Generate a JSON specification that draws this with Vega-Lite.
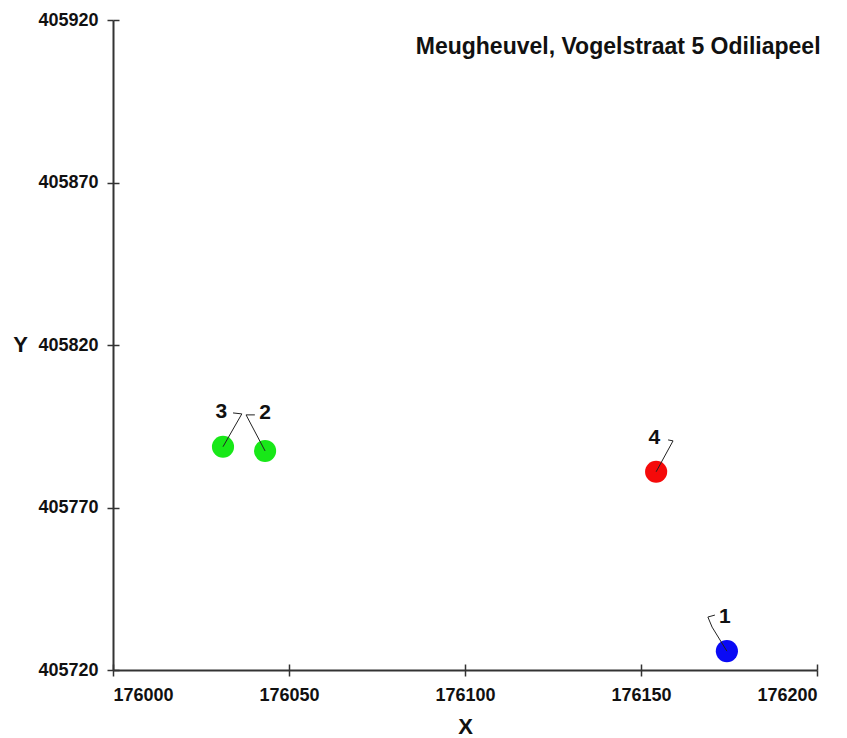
{
  "$schema": "https://vega.github.io/schema/vega-lite/v6.json",
  "width": 704,
  "height": 650,
  "autosize": "none",
  "padding": {"left": 113, "top": 20, "right": 30, "bottom": 68},
  "background": "white",
  "config": {
    "view": {"stroke": null},
    "font": "Liberation Sans",
    "axis": {
      "grid": false,
      "domainColor": "#333333",
      "domainWidth": 2,
      "tickColor": "#333333",
      "tickWidth": 1.5,
      "tickSize": 6,
      "labelFont": "Liberation Sans",
      "labelFontWeight": "bold",
      "labelFontSize": 18,
      "labelColor": "#111111",
      "titleFont": "Liberation Sans",
      "titleFontWeight": "bold",
      "titleFontSize": 22,
      "titleColor": "#111111"
    }
  },
  "datasets": {
    "points": [
      {"punt": "1", "x": 176174.4, "y": 405725.8},
      {"punt": "2", "x": 176043.2, "y": 405787.4},
      {"punt": "3", "x": 176031.25, "y": 405788.7},
      {"punt": "4", "x": 176154.3, "y": 405781.0}
    ],
    "labels": [
      {"punt": "1", "x": 176173.8, "y": 405736.2},
      {"punt": "2", "x": 176043.2, "y": 405799.0},
      {"punt": "3", "x": 176030.8, "y": 405799.5},
      {"punt": "4", "x": 176153.8, "y": 405791.5}
    ],
    "leaders": [
      {"punt": "1", "ord": 1, "x": 176174.4, "y": 405725.8},
      {"punt": "1", "ord": 2, "x": 176170.2, "y": 405733.2},
      {"punt": "1", "ord": 3, "x": 176169.0, "y": 405736.3},
      {"punt": "1", "ord": 4, "x": 176171.0, "y": 405736.9},
      {"punt": "2", "ord": 1, "x": 176043.2, "y": 405787.4},
      {"punt": "2", "ord": 2, "x": 176037.8, "y": 405798.5},
      {"punt": "2", "ord": 3, "x": 176040.3, "y": 405798.5},
      {"punt": "3", "ord": 1, "x": 176031.25, "y": 405788.7},
      {"punt": "3", "ord": 2, "x": 176036.6, "y": 405798.8},
      {"punt": "3", "ord": 3, "x": 176034.1, "y": 405799.1},
      {"punt": "4", "ord": 1, "x": 176154.3, "y": 405781.0},
      {"punt": "4", "ord": 2, "x": 176159.1, "y": 405790.5},
      {"punt": "4", "ord": 3, "x": 176157.7, "y": 405790.8}
    ]
  },
  "resolve": {"axis": {"x": "independent", "y": "independent"}},
  "layer": [
    {
      "data": {"name": "points"},
      "mark": {"type": "circle", "size": 490, "opacity": 1},
      "encoding": {
        "x": {"field": "x", "type": "quantitative",
              "scale": {"domain": [176000, 176200], "nice": false, "zero": false},
              "axis": {"values": [176000, 176050, 176100, 176150, 176200], "format": "d", "title": "X", "labelPadding": 10, "titleY": 56, "titleBaseline": "middle"}},
        "y": {"field": "y", "type": "quantitative",
              "scale": {"domain": [405720, 405920], "nice": false, "zero": false},
              "axis": {"values": [405720, 405770, 405820, 405870, 405920], "format": "d", "title": "Y", "labelPadding": 9, "titleAngle": 0, "titleX": -93, "titleY": 324, "titleAlign": "center", "titleBaseline": "middle"}},
        "color": {"field": "punt", "type": "nominal",
                  "scale": {"domain": ["1", "2", "3", "4"], "range": ["#0a0af5", "#18e818", "#18e818", "#f50a0a"]},
                  "legend": null}
      }
    },
    {
      "data": {"name": "leaders"},
      "mark": {"type": "line", "color": "#222222", "strokeWidth": 1},
      "encoding": {
        "x": {"field": "x", "type": "quantitative",
              "axis": {"orient": "bottom", "offset": -6, "domain": false, "labels": false, "title": null, "tickSize": 6, "values": [176000, 176050, 176100, 176150, 176200]}},
        "y": {"field": "y", "type": "quantitative",
              "axis": {"orient": "left", "offset": -6, "domain": false, "labels": false, "title": null, "tickSize": 6, "values": [405720, 405770, 405820, 405870, 405920]}},
        "detail": {"field": "punt"},
        "order": {"field": "ord", "type": "quantitative"}
      }
    },
    {
      "data": {"name": "labels"},
      "mark": {"type": "text", "font": "Liberation Sans", "fontWeight": "bold", "fontSize": 21, "align": "center", "baseline": "middle", "color": "#111111"},
      "encoding": {
        "x": {"field": "x", "type": "quantitative", "axis": null},
        "y": {"field": "y", "type": "quantitative", "axis": null},
        "text": {"field": "punt"}
      }
    },
    {
      "data": {"values": [{"titel": "Meugheuvel, Vogelstraat 5 Odiliapeel"}]},
      "mark": {"type": "text", "font": "Liberation Sans", "fontWeight": "bold", "fontSize": 23, "align": "right", "baseline": "middle", "color": "#111111"},
      "encoding": {
        "x": {"datum": 176201, "type": "quantitative", "axis": null},
        "y": {"datum": 405911.7, "type": "quantitative", "axis": null},
        "text": {"field": "titel"}
      }
    }
  ]
}
